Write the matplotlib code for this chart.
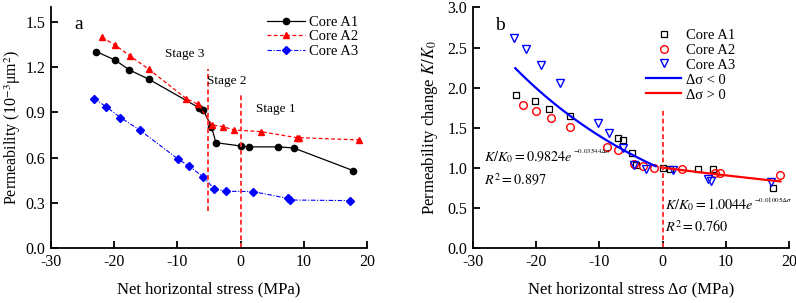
import numpy as np
import matplotlib
matplotlib.use('Agg')
import matplotlib.pyplot as plt

plt.rcParams['font.family'] = ['Liberation Serif', 'DejaVu Serif']
plt.rcParams['mathtext.fontset'] = 'stix'
plt.rcParams['axes.unicode_minus'] = False

# panel a: permeability vs net horizontal stress
a1_x = [-22.8, -19.8, -17.6, -14.5, -6.6, -5.9, -4.6, -3.9, 0.0, 1.3, 6.0, 8.4, 17.8]
a1_y = [1.303, 1.246, 1.182, 1.120, 0.932, 0.917, 0.806, 0.700, 0.678, 0.672, 0.672, 0.665, 0.515]
a2_x = [-21.9, -19.8, -17.5, -14.5, -8.6, -6.8, -4.5, -2.8, -1.0, 3.2, 8.9, 9.3, 18.8]
a2_y = [1.398, 1.345, 1.275, 1.186, 0.992, 0.956, 0.817, 0.806, 0.784, 0.773, 0.733, 0.733, 0.718]
a3_x = [-23.2, -21.3, -19.0, -15.9, -9.9, -8.2, -5.9, -4.2, -2.3, 1.9, 7.5, 7.9, 17.3]
a3_y = [0.992, 0.939, 0.866, 0.782, 0.592, 0.546, 0.473, 0.395, 0.378, 0.376, 0.331, 0.320, 0.316]

# panel b: normalised permeability K/K0
b1_x = [-23.2, -20.2, -18.0, -14.7, -7.0, -6.3, -4.9, -4.2, 0.0, 1.1, 5.5, 7.9, 17.4]
b1_y = [1.913, 1.830, 1.739, 1.647, 1.378, 1.353, 1.191, 1.033, 0.996, 0.983, 0.983, 0.983, 0.755]
b2_x = [-22.1, -20.0, -17.7, -14.6, -8.8, -7.0, -4.6, -3.1, -1.3, 3.0, 8.3, 9.0, 18.5]
b2_y = [1.788, 1.710, 1.627, 1.510, 1.266, 1.220, 1.046, 1.029, 0.996, 0.983, 0.934, 0.934, 0.917]
b3_x = [-23.5, -21.6, -19.3, -16.2, -10.2, -8.5, -6.2, -4.5, -2.6, 1.6, 7.1, 7.7, 17.1]
b3_y = [2.622, 2.485, 2.282, 2.058, 1.556, 1.432, 1.245, 1.041, 0.992, 0.979, 0.863, 0.838, 0.826]

# fitted curves
fit_neg = (0.9824, -0.03544)
fit_pos = (1.0044, -0.01005)

fig = plt.figure(figsize=(7.96, 3.03), dpi=100)
ax1 = fig.add_axes([0.064, 0.1805, 0.397, 0.797])
ax2 = fig.add_axes([0.594, 0.1805, 0.3976, 0.795])

for ax in (ax1, ax2):
    ax.spines['top'].set_visible(False)
    ax.spines['right'].set_visible(False)
    ax.spines['left'].set_linewidth(1.3)
    ax.spines['bottom'].set_linewidth(1.3)
    ax.tick_params(direction='in', length=5, width=1.3, labelsize=11.5, pad=4)
    ax.set_xlim(-30, 20)
    ax.set_xticks(range(-30, 21, 10))
    ax.set_xlabel('Net horizontal stress (MPa)', fontsize=12, labelpad=8)


def equation(ax, x, y, main, power):
    t = ax.text(x, y, main, fontsize=10.2, va='center')
    ax.annotate(power, xy=(1.0, 0.5), xycoords=t, xytext=(0.3, 4.2),
                textcoords='offset points', fontsize=5, va='center', ha='left')


# ---- panel a
ax1.plot(a1_x, a1_y, color='black', lw=0.9, marker='o', ms=4.5, label='Core A1')
ax1.plot(a2_x, a2_y, color='red', lw=0.9, ls=(0, (3, 2)), marker='^', ms=5, label='Core A2')
ax1.plot(a3_x, a3_y, color='blue', lw=0.8, ls=(0, (4, 1.5, 1, 1.5)), marker='D', ms=3.8, label='Core A3')
ax1.plot([-5.15, -5.15], [0.25, 1.19], color='#ff3333', lw=1.4, ls=(0, (2.5, 1.5)))
ax1.plot([0, 0], [0, 1.02], color='#ff3333', lw=1.4, ls=(0, (2.5, 1.5)))
ax1.set_ylim(0, 1.6)
ax1.set_yticks(np.arange(0, 1.51, 0.3))
ax1.set_yticklabels(['%.1f' % v for v in np.arange(0, 1.51, 0.3)])
ax1.set_ylabel('Permeability (10$^{-3}$μm$^2$)', fontsize=11.5, labelpad=2)
ax1.text(-25.6, 1.48, 'a', fontsize=14, ha='center', va='center')
ax1.text(-8.8, 1.29, 'Stage 3', fontsize=9.5, ha='center', va='center')
ax1.text(-2.2, 1.11, 'Stage 2', fontsize=9.5, ha='center', va='center')
ax1.text(5.6, 0.92, 'Stage 1', fontsize=9.5, ha='center', va='center')
ax1.legend(loc='upper right', bbox_to_anchor=(1.0, 1.0), frameon=False, fontsize=10.5,
           handlelength=2.6, handletextpad=0.3, labelspacing=0.1, borderaxespad=0.2)

# ---- panel b
ax2.plot(b1_x, b1_y, ls='none', marker='s', ms=4, mfc='none', mec='black', mew=0.9, label='Core A1')
ax2.plot(b2_x, b2_y, ls='none', marker='o', ms=5.5, mfc='none', mec='red', mew=1.0, label='Core A2')
ax2.plot(b3_x, b3_y, ls='none', marker='v', ms=6, mfc='none', mec='blue', mew=1.0, label='Core A3')
xn = np.linspace(-23.3, -1.1, 100)
xp = np.linspace(-0.3, 18.6, 100)
ax2.plot(xn, fit_neg[0] * np.exp(fit_neg[1] * xn), color='blue', lw=1.6, label='Δσ < 0')
ax2.plot(xp, fit_pos[0] * np.exp(fit_pos[1] * xp), color='red', lw=1.6, label='Δσ > 0')
ax2.plot([0, 0], [0, 1.75], color='#ff3333', lw=1.4, ls=(0, (2.5, 1.5)))
ax2.set_ylim(0, 3.0)
ax2.set_yticks(np.arange(0, 3.01, 0.5))
ax2.set_yticklabels(['%.1f' % v for v in np.arange(0, 3.01, 0.5)])
ax2.set_xlabel('Net horizontal stress Δσ (MPa)', fontsize=12, labelpad=8)
ax2.set_ylabel('Permeability change $K/K_0$', fontsize=12, labelpad=5)
ax2.text(-25.7, 2.78, 'b', fontsize=14, ha='center', va='center')
equation(ax2, -28.2, 1.14, r'$K/K_0=0.9824e$', r'$-0.03544\Delta\sigma$')
ax2.text(-28.2, 0.85, r'$R^2=0.897$', fontsize=10.2, va='center')
equation(ax2, 0.4, 0.54, r'$K/K_0=1.0044e$', r'$-0.01005\Delta\sigma$')
ax2.text(0.4, 0.27, r'$R^2=0.760$', fontsize=10.2, va='center')
ax2.legend(loc='upper right', bbox_to_anchor=(0.86, 0.955), frameon=False, fontsize=10.5,
           handlelength=2.4, handletextpad=0.3, labelspacing=0.12, borderaxespad=0.3)

fig.savefig('out.png', dpi=100)
